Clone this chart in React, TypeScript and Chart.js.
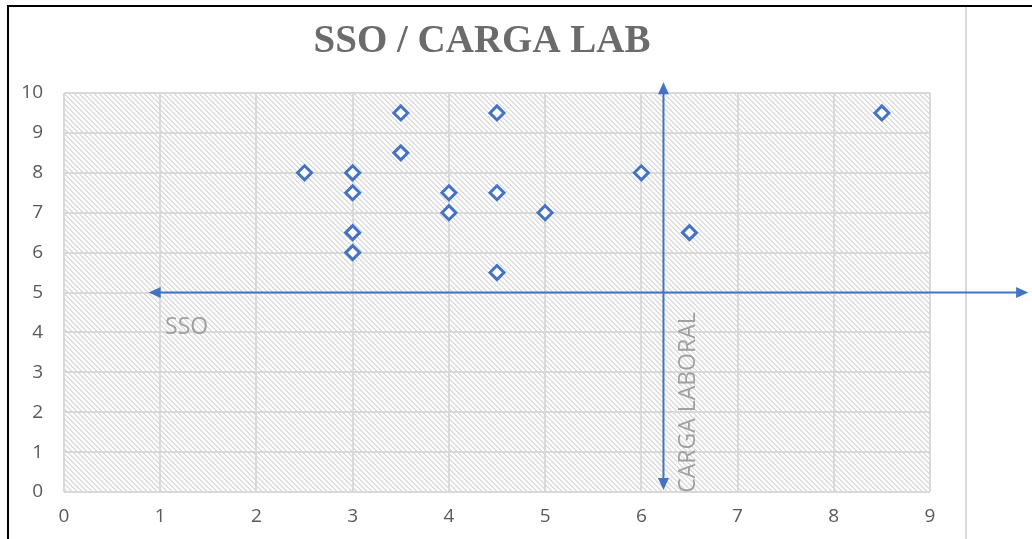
import React, { useEffect, useRef } from "react";
import { Chart, registerables } from "chart.js";

Chart.register(...registerables);

const TITLE = "SSO / CARGA LAB";
const X_AXIS_NAME = "SSO";
const Y_AXIS_NAME = "CARGA LABORAL";

const xValues = [2.5, 3, 3, 3, 3, 3.5, 3.5, 4, 4, 4.5, 4.5, 4.5, 5, 6, 6.5, 8.5];
const yValues = [8, 8, 7.5, 6.5, 6, 9.5, 8.5, 7.5, 7, 9.5, 7.5, 5.5, 7, 8, 6.5, 9.5];

const xMin = 0;
const xMax = 9;
const yMin = 0;
const yMax = 10;

// quadrant arrows (data units)
const hArrowY = 5;
const hArrowFrom = 0.88;
const hArrowTo = 10.02;
const vArrowX = 6.23;
const vArrowFrom = 0.05;
const vArrowTo = 10.27;

// axis-name anchors (data units)
const xNameAt = [1.05, 3.96];
const yNameAt = [6.56, -0.02];

const BLUE = "#4472C4";

function makeHatch(ctx: CanvasRenderingContext2D) {
  const s = 5;
  const c = document.createElement("canvas");
  c.width = s;
  c.height = s;
  const g = c.getContext("2d")!;
  g.fillStyle = "#ffffff";
  g.fillRect(0, 0, s, s);
  g.fillStyle = "#dedede";
  for (let y = 0; y < s; y++) {
    g.fillRect(y % s, y, 1, 1);
    g.fillRect((y + 1) % s, y, 1, 1);
  }
  return ctx.createPattern(c, "repeat");
}

function arrowHead(ctx: CanvasRenderingContext2D, x: number, y: number, dx: number, dy: number) {
  const len = 12;
  const hw = 5.5;
  const px = -dy;
  const py = dx;
  ctx.beginPath();
  ctx.moveTo(x, y);
  ctx.lineTo(x - dx * len + px * hw, y - dy * len + py * hw);
  ctx.lineTo(x - dx * len - px * hw, y - dy * len - py * hw);
  ctx.closePath();
  ctx.fill();
}

const decorPlugin = {
  id: "decor",
  beforeDraw(chart: any) {
    const { ctx, chartArea, width, height } = chart;
    ctx.save();
    ctx.fillStyle = "#ffffff";
    ctx.fillRect(0, 0, width, height);
    const pat = makeHatch(ctx);
    if (pat) {
      ctx.fillStyle = pat;
      ctx.fillRect(chartArea.left, chartArea.top, chartArea.right - chartArea.left, chartArea.bottom - chartArea.top);
    }
    ctx.restore();
  },
  beforeDatasetsDraw(chart: any) {
    const { ctx } = chart;
    const xs = chart.scales.x;
    const ys = chart.scales.y;
    ctx.save();
    // light frame line at right of chart object
    ctx.strokeStyle = "#d9d9d9";
    ctx.lineWidth = 2;
    ctx.beginPath();
    ctx.moveTo(966, 7);
    ctx.lineTo(966, chart.height);
    ctx.stroke();

    ctx.strokeStyle = BLUE;
    ctx.fillStyle = BLUE;
    ctx.lineWidth = 2;
    // horizontal arrow
    const hy = ys.getPixelForValue(hArrowY);
    const hx1 = xs.getPixelForValue(hArrowFrom);
    const hx2 = xs.getPixelForValue(hArrowTo);
    ctx.beginPath();
    ctx.moveTo(hx1 + 8, hy);
    ctx.lineTo(hx2 - 8, hy);
    ctx.stroke();
    arrowHead(ctx, hx1, hy, -1, 0);
    arrowHead(ctx, hx2, hy, 1, 0);
    // vertical arrow
    const vx = xs.getPixelForValue(vArrowX);
    const vy1 = ys.getPixelForValue(vArrowFrom);
    const vy2 = ys.getPixelForValue(vArrowTo);
    ctx.beginPath();
    ctx.moveTo(vx, vy1 - 8);
    ctx.lineTo(vx, vy2 + 8);
    ctx.stroke();
    arrowHead(ctx, vx, vy1, 0, 1);
    arrowHead(ctx, vx, vy2, 0, -1);

    // axis names
    ctx.fillStyle = "#a0a0a0";
    ctx.font = "23px 'Open Sans'";
    ctx.textAlign = "left";
    ctx.textBaseline = "alphabetic";
    ctx.fillText(X_AXIS_NAME, xs.getPixelForValue(xNameAt[0]), ys.getPixelForValue(xNameAt[1]));
    ctx.save();
    ctx.translate(xs.getPixelForValue(yNameAt[0]), ys.getPixelForValue(yNameAt[1]));
    ctx.rotate(-Math.PI / 2);
    ctx.fillText(Y_AXIS_NAME, 0, 0);
    ctx.restore();
    ctx.restore();
  },
  afterDraw(chart: any) {
    const { ctx } = chart;
    ctx.save();
    // title
    ctx.fillStyle = "#6b6b6b";
    ctx.font = "bold 39px 'Liberation Serif'";
    ctx.textAlign = "center";
    ctx.textBaseline = "alphabetic";
    ctx.fillText(TITLE, 482, 52);
    // black frame
    ctx.strokeStyle = "#000000";
    ctx.lineWidth = 2;
    ctx.beginPath();
    ctx.moveTo(chart.width, 6);
    ctx.lineTo(8, 6);
    ctx.lineTo(8, chart.height);
    ctx.stroke();
    ctx.restore();
  },
};

export default function App() {
  const ref = useRef<HTMLCanvasElement | null>(null);
  useEffect(() => {
    if (!ref.current) return;
    const chart = new Chart(ref.current, {
      type: "scatter",
      data: {
        datasets: [
          {
            label: TITLE,
            data: xValues.map((x, i) => ({ x, y: yValues[i] })),
            pointStyle: "rectRot",
            pointRadius: 7,
            pointHoverRadius: 7,
            borderWidth: 3,
            borderColor: BLUE,
            backgroundColor: "#ffffff",
          },
        ],
      },
      options: {
        animation: false,
        responsive: false,
        devicePixelRatio: 1,
        layout: { padding: { top: 93, right: 102, bottom: 0, left: 0 } },
        plugins: {
          legend: { display: false },
          tooltip: { enabled: false },
          title: { display: false },
        },
        scales: {
          x: {
            type: "linear",
            min: xMin,
            max: xMax,
            afterFit: (s: any) => {
              s.height = 47;
            },
            ticks: {
              stepSize: 1,
              padding: 13,
              color: "#595959",
              font: { family: "'Open Sans'", size: 19 },
            },
            grid: { color: "#d9d9d9", lineWidth: 2, drawTicks: false },
            border: { display: false },
          },
          y: {
            type: "linear",
            min: yMin,
            max: yMax,
            afterFit: (s: any) => {
              s.width = 64;
            },
            ticks: {
              stepSize: 1,
              padding: 21,
              color: "#595959",
              font: { family: "'Open Sans'", size: 19 },
            },
            grid: { color: "#d9d9d9", lineWidth: 2, drawTicks: false },
            border: { display: false },
          },
        },
      },
      plugins: [decorPlugin],
    });
    return () => chart.destroy();
  }, []);
  return (
    <div style={{ position: "fixed", left: 0, top: 0, width: 1032, height: 539 }}>
      <canvas ref={ref} width={1032} height={539} />
    </div>
  );
}
